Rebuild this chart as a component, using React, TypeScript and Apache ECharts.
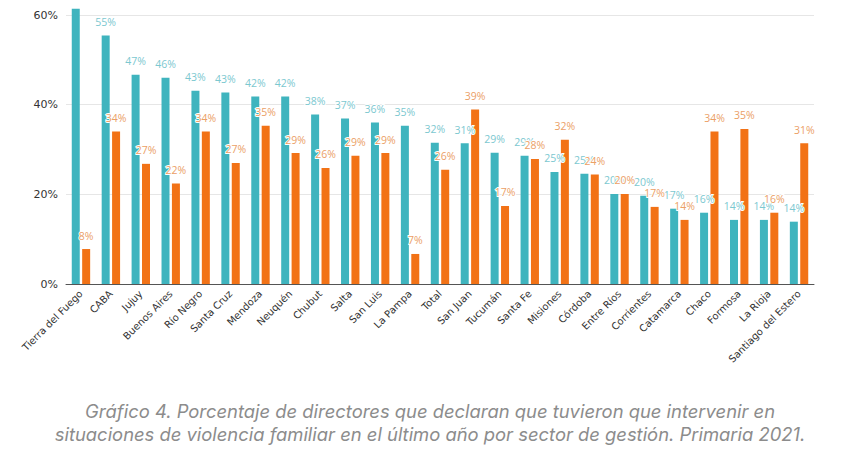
import React, { useEffect, useRef } from "react";
import * as echarts from "echarts";

const categories = [
  "Tierra del Fuego", "CABA", "Jujuy", "Buenos Aires", "Río Negro", "Santa Cruz",
  "Mendoza", "Neuquén", "Chubut", "Salta", "San Luis", "La Pampa", "Total",
  "San Juan", "Tucumán", "Santa Fe", "Misiones", "Córdoba", "Entre Ríos",
  "Corrientes", "Catamarca", "Chaco", "Formosa", "La Rioja", "Santiago del Estero",
];

const seriesTeal = [
  61.4, 55.4, 46.7, 46.0, 43.1, 42.7, 41.8, 41.8, 37.8, 36.9, 36.0, 35.3, 31.5,
  31.4, 29.3, 28.6, 25.0, 24.6, 20.1, 19.7, 16.8, 15.9, 14.3, 14.3, 13.9,
];

const seriesOrange = [
  7.8, 34.0, 26.8, 22.4, 34.0, 27.0, 35.3, 29.2, 25.9, 28.6, 29.2, 6.7, 25.5,
  38.9, 17.4, 27.9, 32.2, 24.4, 20.1, 17.2, 14.3, 34.0, 34.6, 15.9, 31.4,
];

const yTicks = [0, 20, 40, 60];

const captionLines = [
  "Gráfico 4. Porcentaje de directores que declaran que tuvieron que intervenir en",
  "situaciones de violencia familiar en el último año por sector de gestión. Primaria 2021.",
];

export default function App() {
  const ref = useRef<HTMLDivElement>(null);
  useEffect(() => {
    if (!ref.current) return;
    const chart = echarts.init(ref.current, null, { renderer: "svg" });
    const labelCommon = {
      show: true,
      position: "top" as const,
      distance: 8,
      fontSize: 10.5,
      fontFamily: "Open Sans",
      textBorderColor: "#ffffff",
      textBorderWidth: 2,
      formatter: (p: any) => Math.round(p.value) + "%",
    };
    chart.setOption({
      animation: false,
      backgroundColor: "#ffffff",
      grid: { left: 66, right: 46, top: 15, bottom: 177, containLabel: false },
      xAxis: {
        type: "category",
        data: categories,
        axisLine: { lineStyle: { color: "#555555", width: 1 } },
        axisTick: { show: false },
        axisLabel: {
          rotate: 45,
          interval: 0,
          color: "#333333",
          fontSize: 10,
          fontFamily: "DejaVu Sans",
          margin: 8,
        },
      },
      yAxis: {
        type: "value",
        min: yTicks[0],
        max: yTicks[yTicks.length - 1],
        interval: 20,
        axisLine: { show: false },
        axisTick: { show: false },
        splitLine: { lineStyle: { color: "#e6e6e6", width: 1 } },
        axisLabel: {
          color: "#333333",
          fontSize: 11,
          fontFamily: "DejaVu Sans",
          formatter: (v: number) => v + "%",
          margin: 8,
        },
      },
      series: [
        {
          type: "bar",
          data: seriesTeal,
          clip: false,
          barWidth: 8,
          barGap: "30%",
          itemStyle: { color: "#3fb4be" },
          label: { ...labelCommon, color: "#7cc8d0" },
        },
        {
          type: "bar",
          data: seriesOrange,
          clip: false,
          barWidth: 8,
          itemStyle: { color: "#f27216" },
          label: { ...labelCommon, color: "#eba066" },
        },
      ],
      graphic: captionLines.map((t, i) => ({
        type: "text",
        left: "center",
        top: 402 + i * 23,
        style: {
          text: t,
          fontSize: 18.4,
          fontStyle: "italic",
          fontFamily: "Inter",
          fill: "#8c8c8c",
        },
      })),
    });
    return () => chart.dispose();
  }, []);
  return (
    <div
      ref={ref}
      style={{ position: "fixed", left: 0, top: 0, width: 860, height: 461 }}
    />
  );
}
